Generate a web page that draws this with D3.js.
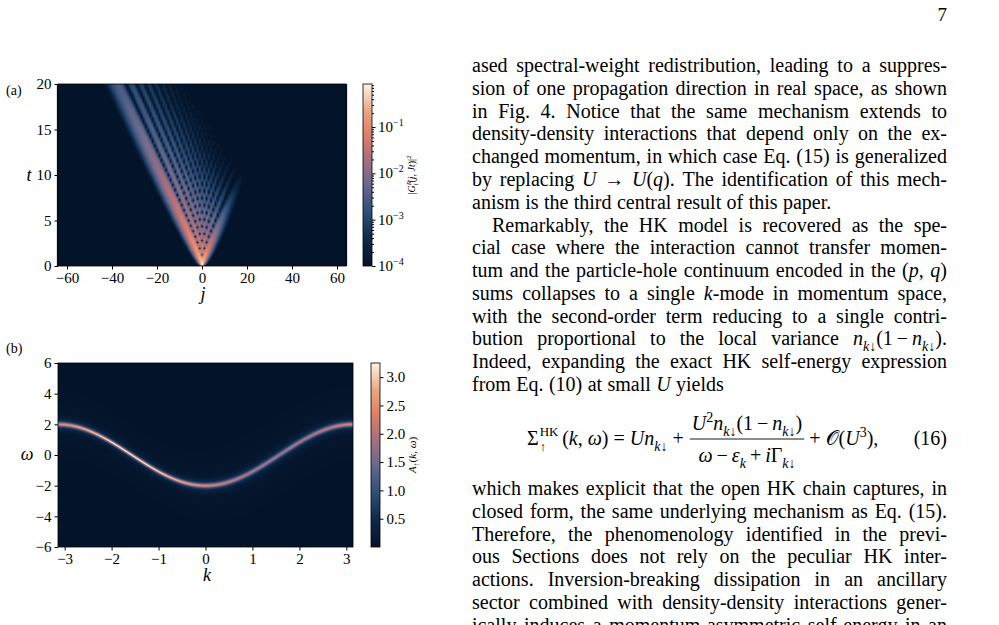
<!DOCTYPE html>
<html><head><meta charset="utf-8">
<script src="https://cdn.jsdelivr.net/npm/d3@7"></script>
<style>body{margin:0;background:#fff}svg{display:block}</style>
</head><body>
<svg id="page" width="999" height="625"></svg>
<script>
// ---- data ----
var jTicks = [-60, -40, -20, 0, 20, 40, 60];
var tTicks = [0, 5, 10, 15, 20];
var kTicks = [-3, -2, -1, 0, 1, 2, 3];
var wTicks = [-6, -4, -2, 0, 2, 4, 6];
var logCbTicks = [-4, -3, -2, -1];
var linCbTicks = [0.5, 1.0, 1.5, 2.0, 2.5, 3.0];
// propagation model for (a): hopping velocity, uniform decay, extra decay of right movers, exponent
var propParams = [2, 0.13, 0.17, 1.7];
// band for (b): -hop*cos k, lorentzian width mean and asymmetry
var bandParams = [2, 0.13, 0.035];
// colormap stops
var cmapStops = [0, 0.15, 0.3, 0.45, 0.6, 0.72, 0.85, 1];
var cmapColors = ['#03142a', '#0f2a4a', '#2f507c', '#6a6a8e', '#b06f7c', '#df7f68', '#eba57f', '#fdf3df'];

var cmap = d3.scaleLinear().domain(cmapStops).range(cmapColors).clamp(true);
var svg = d3.select('#page');
var FONT = '"Liberation Serif", "DejaVu Serif", serif';
var TICK = 15;

// ---- heatmap helper: renders a value grid into an <image> ----
function heat(g, nx, ny, valueAt, norm, x, y, w, h) {
  var cv = document.createElement('canvas');
  cv.width = nx; cv.height = ny;
  var ctx = cv.getContext('2d'), img = ctx.createImageData(nx, ny);
  for (var r = 0; r < ny; r++) for (var c = 0; c < nx; c++) {
    var col = d3.rgb(cmap(norm(valueAt(c, r)))), p = 4 * (r * nx + c);
    img.data[p] = col.r; img.data[p + 1] = col.g; img.data[p + 2] = col.b; img.data[p + 3] = 255;
  }
  ctx.putImageData(img, 0, 0);
  g.append('image').attr('href', cv.toDataURL()).attr('x', x).attr('y', y)
    .attr('width', w).attr('height', h).attr('preserveAspectRatio', 'none');
}

function besselJ(n, x) {
  var N = 160, s = 0;
  for (var i = 0; i <= N; i++) {
    var tau = Math.PI * i / N, wgt = (i === 0 || i === N) ? 0.5 : 1;
    s += wgt * Math.cos(n * tau - x * Math.sin(tau));
  }
  return s / N;
}

function styleAxis(a) {
  a.selectAll('path').remove();
  a.selectAll('line').attr('stroke', '#000');
  a.selectAll('text').attr('font-family', FONT).attr('font-size', TICK).attr('fill', '#000');
}
var fmt = function(v) { return String(v).replace('-', '\u2212'); };

// ================= panel (a) =================
var A = { l: 58, r: 346, t: 84, b: 266 };
var xA = d3.scaleLinear().domain([-64, 64]).range([A.l, A.r]);
var yA = d3.scaleLinear().domain([0, 20]).range([A.b, A.t]);
var nT = 220, jMin = -64, nJ = 129;
heat(svg.append('g'), nJ, nT, function(c, r) {
  var j = jMin + c, t = 20 * (nT - 1 - r) / (nT - 1);
  var J = besselJ(j, propParams[0] * t);
  var v = t > 0 ? Math.max(-1, Math.min(1, j / (propParams[0] * t))) : 0;
  return J * J * Math.exp(-propParams[1] * t - propParams[2] * t * Math.pow(1 + v, propParams[3]));
}, function(val) { return (Math.log10(Math.max(val, 1e-6)) + 4) / (Math.log10(0.85) + 4); },
  xA(-64.5), A.t, xA(64.5) - xA(-64.5), A.b - A.t);
svg.append('rect').attr('x', A.l).attr('y', A.t).attr('width', A.r - A.l).attr('height', A.b - A.t)
  .attr('fill', 'none').attr('stroke', '#000').attr('stroke-width', 0.8);
styleAxis(svg.append('g').attr('transform', 'translate(0,' + A.b + ')')
  .call(d3.axisBottom(xA).tickValues(jTicks).tickFormat(fmt).tickSize(3.5)));
styleAxis(svg.append('g').attr('transform', 'translate(' + A.l + ',0)')
  .call(d3.axisLeft(yA).tickValues(tTicks).tickFormat(fmt).tickSize(3.5)));
svg.append('text').attr('x', 29).attr('y', 181).attr('font-family', FONT).attr('font-style', 'italic')
  .attr('font-size', 18).attr('text-anchor', 'middle').text('t');
svg.append('text').attr('x', 203).attr('y', 300).attr('font-family', FONT).attr('font-style', 'italic')
  .attr('font-size', 18).attr('text-anchor', 'middle').text('j');
svg.append('text').attr('x', 6).attr('y', 95).attr('font-family', FONT).attr('font-size', 14).text('(a)');

// colorbar (a)
var CA = { l: 363, r: 372, t: 84, b: 266 };
var cbA = d3.scaleLinear().domain([-4, Math.log10(0.85)]).range([CA.b, CA.t]);
heat(svg.append('g'), 1, 200, function(c, r) { return (199 - r) / 199; }, function(v) { return v; },
  CA.l, CA.t, CA.r - CA.l, CA.b - CA.t);
svg.append('rect').attr('x', CA.l).attr('y', CA.t).attr('width', CA.r - CA.l).attr('height', CA.b - CA.t)
  .attr('fill', 'none').attr('stroke', '#000').attr('stroke-width', 0.8);
var minorA = [];
[-4, -3, -2, -1].forEach(function(d) { for (var m = 2; m <= 9; m++) { var lv = d + Math.log10(m); if (lv <= cbA.domain()[1]) minorA.push(lv); } });
styleAxis(svg.append('g').attr('transform', 'translate(' + CA.r + ',0)')
  .call(d3.axisRight(cbA).tickValues(minorA).tickFormat('').tickSize(2)));
styleAxis(svg.append('g').attr('transform', 'translate(' + CA.r + ',0)')
  .call(d3.axisRight(cbA).tickValues(logCbTicks).tickFormat('').tickSize(3.5)));
logCbTicks.forEach(function(d) {
  var tx = svg.append('text').attr('x', CA.r + 6).attr('y', cbA(d) + 5).attr('font-family', FONT).attr('font-size', TICK);
  tx.append('tspan').text('10');
  tx.append('tspan').attr('dy', -6).attr('font-size', 10).text('\u2212' + (-d));
});
var lblA = svg.append('text').attr('transform', 'translate(415,' + ((CA.t + CA.b) / 2) + ') rotate(-90)')
  .attr('text-anchor', 'middle').attr('font-family', FONT).attr('font-size', 10);
lblA.append('tspan').text('|');
lblA.append('tspan').attr('font-style', 'italic').text('G');
lblA.append('tspan').attr('font-size', 7).attr('dy', -4).attr('font-style', 'italic').text('R');
lblA.append('tspan').attr('font-size', 7).attr('dy', 7).attr('dx', -5).text('\u2191');
lblA.append('tspan').attr('dy', -3).text('(');
lblA.append('tspan').attr('font-style', 'italic').text('j, Jt');
lblA.append('tspan').text(')|');
lblA.append('tspan').attr('font-size', 7).attr('dy', -4).text('2');

// ================= panel (b) =================
var B = { l: 58, r: 353, t: 363, b: 547 };
var xB = d3.scaleLinear().domain([-Math.PI, Math.PI]).range([B.l, B.r]);
var yB = d3.scaleLinear().domain([-6, 6]).range([B.b, B.t]);
var nK = 300, nW = 360;
heat(svg.append('g'), nK, nW, function(c, r) {
  var k = -Math.PI + 2 * Math.PI * (c + 0.5) / nK, w = 6 - 12 * (r + 0.5) / nW;
  var eps = -bandParams[0] * Math.cos(k), gam = bandParams[1] + bandParams[2] * Math.sin(k);
  return gam / Math.PI / ((w - eps) * (w - eps) + gam * gam);
}, function(v) { return v / 3.25; }, B.l, B.t, B.r - B.l, B.b - B.t);
svg.append('rect').attr('x', B.l).attr('y', B.t).attr('width', B.r - B.l).attr('height', B.b - B.t)
  .attr('fill', 'none').attr('stroke', '#000').attr('stroke-width', 0.8);
styleAxis(svg.append('g').attr('transform', 'translate(0,' + B.b + ')')
  .call(d3.axisBottom(xB).tickValues(kTicks).tickFormat(fmt).tickSize(3.5)));
styleAxis(svg.append('g').attr('transform', 'translate(' + B.l + ',0)')
  .call(d3.axisLeft(yB).tickValues(wTicks).tickFormat(fmt).tickSize(3.5)));
svg.append('text').attr('x', 27).attr('y', 460).attr('font-family', FONT).attr('font-style', 'italic')
  .attr('font-size', 18).attr('text-anchor', 'middle').text('\u03c9');
svg.append('text').attr('x', 207).attr('y', 581).attr('font-family', FONT).attr('font-style', 'italic')
  .attr('font-size', 18).attr('text-anchor', 'middle').text('k');
svg.append('text').attr('x', 6).attr('y', 353).attr('font-family', FONT).attr('font-size', 14).text('(b)');

var CB = { l: 371, r: 380, t: 363, b: 547 };
var cbB = d3.scaleLinear().domain([0, 3.25]).range([CB.b, CB.t]);
heat(svg.append('g'), 1, 200, function(c, r) { return (199 - r) / 199; }, function(v) { return v; },
  CB.l, CB.t, CB.r - CB.l, CB.b - CB.t);
svg.append('rect').attr('x', CB.l).attr('y', CB.t).attr('width', CB.r - CB.l).attr('height', CB.b - CB.t)
  .attr('fill', 'none').attr('stroke', '#000').attr('stroke-width', 0.8);
styleAxis(svg.append('g').attr('transform', 'translate(' + CB.r + ',0)')
  .call(d3.axisRight(cbB).tickValues(linCbTicks).tickFormat(d3.format('.1f')).tickSize(3.5)));
var lblB = svg.append('text').attr('transform', 'translate(416,' + ((CB.t + CB.b) / 2) + ') rotate(-90)')
  .attr('text-anchor', 'middle').attr('font-family', FONT).attr('font-size', 11);
lblB.append('tspan').attr('font-style', 'italic').text('A');
lblB.append('tspan').attr('font-size', 8).attr('dy', 3).text('\u2191');
lblB.append('tspan').attr('dy', -3).text('(');
lblB.append('tspan').attr('font-style', 'italic').text('k, \u03c9');
lblB.append('tspan').text(')');

// ================= text column =================
svg.append('text').attr('x', 947).attr('y', 21).attr('text-anchor', 'end')
  .attr('font-family', FONT).attr('font-size', 19).text('7');

var TXT = { l: 472, r: 947, size: 20 };
// markup: *x* italic, _{x} subscript, ^{x} superscript; flag j = justify, i = indent
var textLines = [
  ['ased spectral-weight redistribution, leading to a suppres-', 72, 'j'],
  ['sion of one propagation direction in real space, as shown', 95, 'j'],
  ['in Fig. 4.  Notice that the same mechanism extends to', 118, 'j'],
  ['density-density interactions that depend only on the ex-', 140, 'j'],
  ['changed momentum, in which case Eq. (15) is generalized', 163, 'j'],
  ['by replacing *U* \u2192 *U*(*q*).  The identification of this mech-', 186, 'j'],
  ['anism is the third central result of this paper.', 209, ''],
  ['Remarkably, the HK model is recovered as the spe-', 232, 'ji'],
  ['cial case where the interaction cannot transfer momen-', 254, 'j'],
  ['tum and the particle-hole continuum encoded in the (*p*, *q*)', 277, 'j'],
  ['sums collapses to a single *k*-mode in momentum space,', 300, 'j'],
  ['with the second-order term reducing to a single contri-', 323, 'j'],
  ['bution proportional to the local variance *n*_{*k*\u2193}(1\u2009\u2212\u2009*n*_{*k*\u2193}).', 345, 'j'],
  ['Indeed, expanding the exact HK self-energy expression', 368, 'j'],
  ['from Eq. (10) at small *U* yields', 391, ''],
  ['which makes explicit that the open HK chain captures, in', 495, 'j'],
  ['closed form, the same underlying mechanism as Eq. (15).', 518, 'j'],
  ['Therefore, the phenomenology identified in the previ-', 541, 'j'],
  ['ous Sections does not rely on the peculiar HK inter-', 563, 'j'],
  ['actions.  Inversion-breaking dissipation in an ancillary', 586, 'j'],
  ['sector combined with density-density interactions gener-', 609, 'j'],
  ['ically induces a momentum-asymmetric self-energy in an', 632, 'j']
];

function richText(parent, str, size) {
  var t = parent.append('text').attr('font-family', FONT).attr('font-size', size);
  var re = /(\*[^*]+\*|_\{[^}]+\}|\^\{[^}]+\}|[^*_^]+)/g, m, shift = 0;
  while ((m = re.exec(str))) {
    var s = m[0], dy = 0, fs = size, it = false;
    if (s[0] === '*') { s = s.slice(1, -1); it = true; }
    else if (s[0] === '_') { s = s.slice(2, -1); dy = size * 0.3; fs = size * 0.7; }
    else if (s[0] === '^') { s = s.slice(2, -1); dy = -size * 0.4; fs = size * 0.7; }
    s.split(/(\*[^*]+\*)/).forEach(function(p) {
      if (!p) return;
      var ital = it || p[0] === '*';
      if (p[0] === '*') p = p.slice(1, -1);
      var sp = t.append('tspan').attr('font-size', fs).attr('font-style', ital ? 'italic' : null).text(p);
      if (dy !== shift) { sp.attr('dy', dy - shift); shift = dy; }
    });
  }
  if (shift) t.append('tspan').attr('font-size', size).attr('dy', -shift).text('\u200b');
  return t;
}

textLines.forEach(function(line) {
  var g = svg.append('g').attr('transform', 'translate(0,' + line[1] + ')');
  var words = line[0].split(/ +/);
  var x0 = TXT.l + (line[2].indexOf('i') >= 0 ? 20 : 0);
  var nodes = words.map(function(w) { return richText(g, w, TXT.size); });
  var widths = nodes.map(function(n) { return n.node().getComputedTextLength(); });
  var total = d3.sum(widths), gap = TXT.size * 0.27;
  if (line[2].indexOf('j') >= 0 && words.length > 1) gap = (TXT.r - x0 - total) / (words.length - 1);
  var x = x0;
  nodes.forEach(function(n, i) { n.attr('x', x); x += widths[i] + gap; });
});

// equation (16): pieces placed one after another
var eq = svg.append('g');
var eqY = 445, ex = 527;
function piece(str, x, y, size) {
  var n = richText(eq, str, size || TXT.size).attr('x', x).attr('y', y);
  return n.node().getComputedTextLength();
}
ex += piece('\u03a3', ex, eqY);
piece('HK', ex + 1, eqY - 9, 13);
ex += piece('\u2191', ex + 1, eqY + 6, 13) + 3;
ex += 14;
ex += piece('(*k*, *\u03c9*) = *Un*_{*k*\u2193} +', ex, eqY) + 6;
var num = '*U*^{2}*n*_{*k*\u2193}(1\u2009\u2212\u2009*n*_{*k*\u2193})';
var den = '*\u03c9*\u2009\u2212\u2009*\u03b5*_{*k*}\u2009+\u2009*i*\u0393_{*k*\u2193}';
var probe = richText(eq, num, TXT.size), wNum = probe.node().getComputedTextLength(); probe.remove();
probe = richText(eq, den, TXT.size); var wDen = probe.node().getComputedTextLength(); probe.remove();
var wFr = Math.max(wNum, wDen) + 4;
piece(num, ex + (wFr - wNum) / 2, eqY - 15);
piece(den, ex + (wFr - wDen) / 2, eqY + 17);
eq.append('line').attr('x1', ex).attr('x2', ex + wFr).attr('y1', eqY - 6).attr('y2', eqY - 6)
  .attr('stroke', '#000').attr('stroke-width', 0.9);
ex += wFr + 5;
piece('+ \ud835\udcaa(*U*^{3}),', ex, eqY);
richText(eq, '(16)', TXT.size).attr('x', 947).attr('y', eqY).attr('text-anchor', 'end');
</script>
</body></html>
